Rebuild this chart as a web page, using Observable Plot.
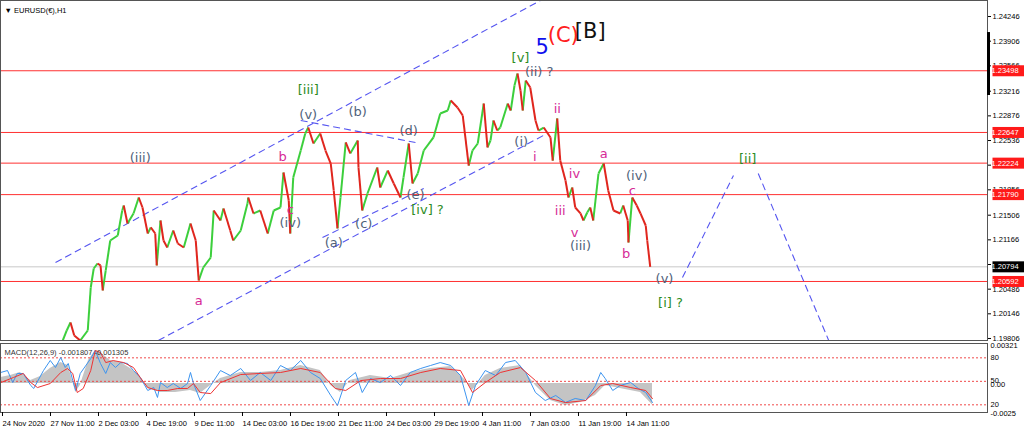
<!DOCTYPE html>
<html><head><meta charset="utf-8">
<script src="https://cdn.jsdelivr.net/npm/d3@7"></script>
<script src="https://cdn.jsdelivr.net/npm/@observablehq/plot@0.6"></script>
<style>
html,body{margin:0;padding:0;background:#fff;}
#wrap{position:relative;width:1024px;height:438px;overflow:hidden;font-family:"Liberation Sans",Arial,sans-serif;}
#wrap svg{position:absolute;left:0;display:block;overflow:visible;}
</style></head><body><div id="wrap"></div>
<script>
// ---------- DATA ----------
// H1 bar index (0 = 24 Nov 2020 00:00) and price path of EURUSD
const priceBars = [79,87,92,97,105,115,119,123,128,132,
135,139,145,155,161,163,168,176,183,188,
195,199,205,207,212,216,221,229,235,243,
252,259,263,269,279,283,292,296,305,309,
319,328,329,336,345,355,363,372,376,383,
385,389,399,405,409,416,425,432,439,443,
448,452,459,465,475,476,481,488,501,505,
515,523,532,536,543,548,555,563,576,585,
595,599,608,615,623,628,635,643,648,652,
656,661,665,675,679,684,688,692,695,699,
705,712,716,723,732,735,741,745,752,756,
761,765,772,776,781,785,789,796,803,809,
816,825,829,835,836,841,847,852,859,861,865];
const closes = [1.19709,1.19916,1.20027,1.19847,1.19778,1.19916,1.20509,1.20771,1.20840,1.20813,
1.20468,1.20744,1.21157,1.21226,1.21571,1.21640,1.21392,1.21530,1.21750,1.21612,
1.21254,1.21337,1.21254,1.20813,1.21433,1.21157,1.21061,1.21295,1.21116,1.21061,
1.21392,1.21157,1.20606,1.20785,1.20923,1.21571,1.21433,1.21599,1.21295,1.21157,
1.21295,1.21667,1.21750,1.21530,1.21571,1.21254,1.21571,1.21612,1.22095,1.21709,
1.21254,1.22026,1.22398,1.22633,1.22715,1.22495,1.22633,1.22398,1.22219,1.21847,
1.21323,1.21750,1.22509,1.22357,1.22536,1.22164,1.21571,1.21805,1.22164,1.21888,
1.22122,1.21943,1.21750,1.22026,1.22495,1.21943,1.22081,1.22398,1.22578,1.22908,
1.22950,1.23088,1.22991,1.22881,1.22191,1.22398,1.22495,1.23046,1.22440,1.22536,
1.22812,1.22674,1.22715,1.23046,1.22950,1.23295,1.23460,1.23226,1.22950,1.23363,
1.23267,1.22812,1.22674,1.22715,1.22578,1.22260,1.22840,1.22260,1.21985,1.21750,
1.21888,1.21612,1.21530,1.21433,1.21543,1.21612,1.21433,1.22081,1.22219,1.21847,
1.21571,1.21530,1.21640,1.21433,1.21130,1.21750,1.21640,1.21530,1.21364,1.21157,1.20794];

const priceLevels = [1.23498, 1.22647, 1.22224, 1.21790, 1.20592];
const lastPrice = 1.20794;
const priceTicks = [1.24246,1.23906,1.23566,1.23216,1.22876,1.22536,1.22196,1.21856,1.21506,1.21166,1.20826,1.20486,1.20146,1.19806];
const axisMarker = [1.24025, 1.23157];

const timeTickBars = [0,64,128,192,256,320,384,448,512,576,640,704,768,832];
const timeLabels = ["24 Nov 2020","27 Nov 11:00","2 Dec 03:00","4 Dec 19:00","9 Dec 11:00","14 Dec 03:00","16 Dec 19:00","21 Dec 11:00","24 Dec 03:00","29 Dec 19:00","4 Jan 11:00","7 Jan 03:00","11 Jan 19:00","14 Jan 11:00"];

// Elliott wave labels
const waveLabels = [
 {t:"(iii)",bar:185,p:1.22302,g:"gray"},
 {t:"b",bar:375,p:1.22316,g:"mag"},
 {t:"c",bar:385,p:1.21585,g:"mag"},
 {t:"(iv)",bar:385,p:1.21405,g:"gray"},
 {t:"[iii]",bar:409,p:1.23239,g:"green"},
 {t:"(v)",bar:409,p:1.22895,g:"gray"},
 {t:"(b)",bar:475,p:1.22936,g:"gray"},
 {t:"(d)",bar:543,p:1.22674,g:"gray"},
 {t:"(a)",bar:443,p:1.21130,g:"gray"},
 {t:"(c)",bar:483,p:1.21392,g:"gray"},
 {t:"(e)",bar:552,p:1.21792,g:"gray"},
 {t:"[iv] ?",bar:568,p:1.21585,g:"green"},
 {t:"a",bar:263,p:1.20330,g:"mag"},
 {t:"(i)",bar:693,p:1.22522,g:"gray"},
 {t:"i",bar:711,p:1.22316,g:"mag"},
 {t:"ii",bar:741,p:1.22977,g:"mag"},
 {t:"[v]",bar:692,p:1.23681,g:"green"},
 {t:"(ii) ?",bar:717,p:1.23488,g:"gray"},
 {t:"iv",bar:764,p:1.22081,g:"mag"},
 {t:"iii",bar:745,p:1.21571,g:"mag"},
 {t:"v",bar:764,p:1.21268,g:"mag"},
 {t:"(iii)",bar:772,p:1.21088,g:"gray"},
 {t:"a",bar:803,p:1.22357,g:"mag"},
 {t:"(iv)",bar:847,p:1.22054,g:"gray"},
 {t:"c",bar:841,p:1.21847,g:"mag"},
 {t:"b",bar:833,p:1.20978,g:"mag"},
 {t:"(v)",bar:884,p:1.20633,g:"gray"},
 {t:"[i] ?",bar:892,p:1.20302,g:"green"},
 {t:"[ii]",bar:995,p:1.22288,g:"green"}
];
const bigLabels = [
 {t:"5",bar:721,p:1.23819,c:"#1010ee",w:"bold"},
 {t:"(C)",bar:749,p:1.23984,c:"#ff2020",w:"normal"},
 {t:"[B]",bar:785,p:1.24039,c:"#111111",w:"normal"}
];
// dashed trend / forecast lines (bar, price)
const waveLines = [
 {x1:72,y1:1.20854,x2:745,y2:1.24614},
 {x1:209,y1:1.19778,x2:725,y2:1.22619},
 {x1:428,y1:1.21199,x2:563,y2:1.21874},
 {x1:399,y1:1.22812,x2:552,y2:1.22509},
 {x1:908,y1:1.20647,x2:976,y2:1.22054},
 {x1:1009,y1:1.22081,x2:1103,y2:1.19778}
];

// MACD panel
const oscBars = [-1,8,15,21,29,39,43,56,65,72,79,85,89,95,99,105,119,125,132,139,145,152,159,168,176,185,195,203,208,212,221,229,239,248,252,256,265,279,292,305,319,332,345,359,372,385,399,412,425,439,448,459,472,481,492,505,519,532,545,559,572,585,599,612,623,632,645,659,672,685,699,712,725,739,752,765,779,792,799,805,815,825,839,849,859,868];
const oscValues = [61.3,63.8,48.5,60.0,60.0,44.7,40.9,63.8,76.6,67.7,80.4,67.7,72.8,51.1,38.3,60.0,79.1,89.4,72.8,60.0,74.0,67.7,74.0,72.8,63.8,54.9,38.3,42.1,29.4,48.5,42.1,47.2,40.9,47.2,61.3,47.2,25.5,44.7,63.8,57.4,66.4,51.1,61.3,51.1,70.2,63.8,76.6,61.3,53.6,31.9,19.1,51.1,61.3,35.7,53.6,48.5,57.4,44.7,61.3,66.4,70.2,74.0,70.2,57.4,19.1,44.7,63.8,57.4,74.0,76.6,61.3,35.7,25.5,31.9,23.0,28.1,25.5,44.7,61.3,53.6,38.3,44.7,48.5,40.9,35.7,23.0];
const histBars = [-1,12,25,39,52,65,79,89,99,105,116,125,132,145,159,172,185,195,212,232,252,265,279,292,319,345,372,399,425,439,452,465,492,519,545,572,599,619,628,645,665,692,712,732,752,772,792,805,825,852,868];
const histValues = [0.00051,0.00068,0.00093,0.00025,0.00059,0.00127,0.00177,0.00152,-0.00076,-0.00017,0.00194,0.00279,0.00262,0.00194,0.00177,0.00127,0.00059,-0.00042,-0.00076,-0.00076,-0.00059,-0.00085,-0.00017,0.00042,0.00093,0.00093,0.00110,0.00152,0.00110,-0.00017,-0.00076,0.00025,0.00068,0.00042,0.00093,0.00127,0.00144,0.00025,-0.00059,0.00068,0.00127,0.00152,-0.00017,-0.00144,-0.00186,-0.00161,-0.00101,-0.00017,-0.00042,-0.00076,-0.00181];
const sigBars = [-1,16,29,39,48,65,79,88,95,101,109,119,125,132,139,149,163,176,185,195,208,221,235,248,256,265,279,292,319,345,372,399,425,445,459,479,505,532,559,585,612,628,645,665,692,712,732,752,779,799,815,839,859,868];
const sigValues = [0.00008,0.00051,0.00085,0.00008,-0.00034,0,0.00093,0.00127,0.00085,-0.00076,-0.00042,0.00110,0.00279,0.00262,0.00177,0.00194,0.00177,0.00135,0.00051,-0.00034,-0.00059,-0.00059,-0.00042,-0.00042,0,-0.00076,-0.00085,0.00008,0.00076,0.00085,0.00093,0.00127,0.00093,-0.00042,-0.00059,0.00025,0.00042,0.00042,0.00093,0.00127,0.00110,-0.00076,0.00008,0.00093,0.00135,0.00025,-0.00127,-0.00161,-0.00144,-0.00017,0,-0.00034,-0.00059,-0.00127];
const oscLevels = [80, 50, 20];
const macdTitle = "MACD(12,26,9) -0.001807 -0.001305";
const panelLabels = [{t:"0.00321",v:95.7},{t:"80",v:80},{t:"50",v:51.5},{t:"0.00",v:45.5},{t:"20",v:20},{t:"-0.0025",v:9}];

// ---------- RENDER ----------
const xDomain = [-1.33, 1314.7];
const wrap = document.getElementById("wrap");
const FONT = "Liberation Sans, Arial, sans-serif";
const WAVEFONT = "DejaVu Sans, Verdana, sans-serif";
const colors = {gray:"#50627a", mag:"#d62a96", green:"#2d8c1e"};
const green = "#3ccf3c", red = "#e0261e";

const segs = [];
for (let i = 1; i < closes.length; i++) {
  segs.push({x1:priceBars[i-1], y1:closes[i-1], x2:priceBars[i], y2:closes[i], up: closes[i] >= closes[i-1]});
}
const boxData = [...priceLevels.map(v => ({v, c:"#ff1a1a"})), {v:lastPrice, c:"#000"}];

function boxRender(index, scales, values, dims, ctx, next) {
  const g = next(index, scales, values, dims, ctx);
  const ns = "http://www.w3.org/2000/svg";
  const x0 = dims.width - dims.marginRight + 1;
  for (const i of index) {
    const r = document.createElementNS(ns, "rect");
    r.setAttribute("x", x0);
    r.setAttribute("y", values.y[i] - 5.5);
    r.setAttribute("width", 35);
    r.setAttribute("height", 11);
    r.setAttribute("fill", boxData[i].c);
    g.insertBefore(r, g.firstChild);
  }
  return g;
}

const main = Plot.plot({
  width: 1024, height: 341,
  marginTop: 0, marginRight: 37, marginBottom: 1, marginLeft: 0,
  style: {fontFamily: FONT, fontSize: "7.5px", background: "#fff", color: "#000"},
  x: {domain: xDomain, axis: null},
  y: {domain: [1.19778, 1.24467], axis: null},
  marks: [
    Plot.ruleY([lastPrice], {stroke: "#c8c8c8", strokeWidth: 1}),
    Plot.ruleY(priceLevels, {stroke: "#ff3030", strokeWidth: 1}),
    Plot.link(waveLines, {x1:"x1", y1:"y1", x2:"x2", y2:"y2", stroke:"#5555f0", strokeWidth:1.1, strokeDasharray:"7,4", clip:true}),
    Plot.link(segs.filter(d => d.up), {x1:"x1", y1:"y1", x2:"x2", y2:"y2", stroke: green, strokeWidth: 2, clip: true}),
    Plot.link(segs.filter(d => !d.up), {x1:"x1", y1:"y1", x2:"x2", y2:"y2", stroke: red, strokeWidth: 2, clip: true}),
    Plot.text(waveLabels, {x:"bar", y:"p", text:"t", fill: d => colors[d.g], fontSize: 13, fontFamily: WAVEFONT}),
    Plot.text(bigLabels, {x:"bar", y:"p", text:"t", fill: d => d.c, fontSize: 21, fontWeight: d => d.w, fontFamily: WAVEFONT}),
    Plot.text([ "\u25BC EURUSD(\u20AC),H1" ], {text: d => d, frameAnchor: "top-left", dx: 4, dy: 7, fontSize: 7.5, fill: "#000"}),
    Plot.frame({stroke: "#555", strokeWidth: 1}),
    Plot.axisY(priceTicks, {anchor: "right", label: null, tickSize: 3, tickPadding: 2, tickFormat: d => d.toFixed(5), fontSize: 7.5}),
    Plot.ruleX([xDomain[1]], {y1: axisMarker[0], y2: axisMarker[1], stroke: "#000", strokeWidth: 3, dx: 1}),
    Plot.text(boxData, {y: "v", text: d => d.v.toFixed(5), frameAnchor: "right", textAnchor: "start", dx: 4, fill: "#fff", fontSize: 7.5, render: boxRender})
  ]
});
main.style.top = "0px";
wrap.appendChild(main);

const toOsc = m => 47.2 + m * 15108;
const hist = histBars.map((b, i) => ({b, v: toOsc(histValues[i])}));
const osc = oscBars.map((b, i) => ({b, v: oscValues[i]}));
const sig = sigBars.map((b, i) => ({b, v: toOsc(sigValues[i])}));

const macd = Plot.plot({
  width: 1024, height: 97,
  marginTop: 2, marginRight: 37, marginBottom: 26, marginLeft: 0,
  style: {fontFamily: FONT, fontSize: "7.5px", background: "transparent", color: "#000"},
  x: {domain: xDomain, axis: null},
  y: {domain: [10.2, 98.3], axis: null},
  marks: [
    Plot.areaY(hist, {x: "b", y1: toOsc(0), y2: "v", fill: "#c4c4c4", curve: "linear"}),
    Plot.ruleY(oscLevels, {stroke: "#f04a4a", strokeDasharray: "2,2", strokeWidth: 1}),
    Plot.line(osc, {x: "b", y: "v", stroke: "#3d95f0", strokeWidth: 1}),
    Plot.line(sig, {x: "b", y: "v", stroke: "#ee3333", strokeWidth: 1}),
    Plot.text([macdTitle], {text: d => d, frameAnchor: "top-left", dx: 4, dy: 6, fontSize: 7.5, fill: "#333"}),
    Plot.frame({stroke: "#555", strokeWidth: 1}),
    Plot.text(panelLabels, {y: "v", text: "t", frameAnchor: "right", textAnchor: "start", dx: 3, fontSize: 7.5, fill: "#000"}),
    Plot.axisX(timeTickBars, {anchor: "bottom", label: null, tickSize: 4, tickPadding: 4, textAnchor: "start", dx: 1, tickFormat: (d, i) => timeLabels[i], fontSize: 7.5})
  ]
});
macd.style.top = "341px";
wrap.appendChild(macd);
</script></body></html>
